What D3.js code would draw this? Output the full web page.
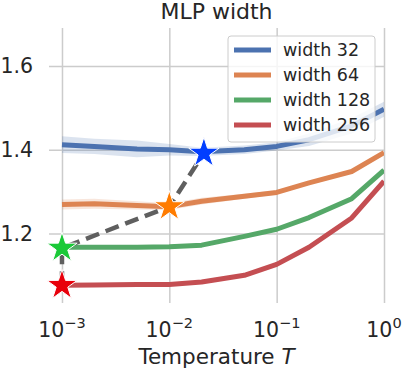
<!DOCTYPE html>
<html>
<head>
<meta charset="utf-8">
<script src="https://cdn.jsdelivr.net/npm/d3@7"></script>
<style>
  body { margin: 0; background: #fff; }
  text { font-family: "DejaVu Sans", sans-serif; fill: #262626; }
</style>
</head>
<body>
<div class="chart"></div>
<script>
const temps = [0.001, 0.002, 0.005, 0.01, 0.02, 0.05, 0.1, 0.2, 0.5, 1];

const width32 = [1.412, 1.408, 1.402, 1.400, 1.395, 1.400, 1.408, 1.424, 1.457, 1.497];
const width32Err = [0.020, 0.018, 0.020, 0.014, 0.010, 0.010, 0.010, 0.015, 0.018, 0.018];
const width64 = [1.269, 1.271, 1.267, 1.264, 1.277, 1.289, 1.298, 1.321, 1.348, 1.393];
const width64Err = [0.012, 0.012, 0.010, 0.008, 0.008, 0.006, 0.005, 0.004, 0.004, 0.004];
const width128 = [1.167, 1.167, 1.167, 1.168, 1.172, 1.193, 1.210, 1.238, 1.283, 1.351];
const width128Err = [0.003, 0.003, 0.003, 0.003, 0.003, 0.003, 0.003, 0.003, 0.003, 0.003];
const width256 = [1.076, 1.077, 1.078, 1.078, 1.084, 1.100, 1.126, 1.167, 1.237, 1.325];
const width256Err = [0.002, 0.002, 0.002, 0.002, 0.002, 0.002, 0.002, 0.002, 0.002, 0.002];

const seriesNames = ["width 32", "width 64", "width 128", "width 256"];
const seriesColors = ["#4c72b0", "#dd8452", "#55a868", "#c44e52"];

// best temperature per width (stars), joined by the dashed line
const starTemps = [0.001, 0.001, 0.01, 0.021];
const starValues = [1.076, 1.165, 1.264, 1.392];
const starColors = ["#e8000b", "#1ac938", "#ff7c00", "#023eff"];

const xTicks = [0.001, 0.01, 0.1, 1];
const xTickExp = ["−3", "−2", "−1", "0"];
const yTicks = [1.2, 1.4, 1.6];

const W = 403, H = 370;
const margin = { top: 28, right: 19, bottom: 67, left: 49 };
const width = W - margin.left - margin.right;
const height = H - margin.top - margin.bottom;

const svg = d3.select(".chart").append("svg")
  .attr("width", W).attr("height", H);

const g = svg.append("g")
  .attr("transform", `translate(${margin.left},${margin.top})`);

const x = d3.scaleLog()
  .domain([Math.pow(10, -3.121), 1])
  .range([0, width]);

const y = d3.scaleLinear()
  .domain([1.0337, 1.691])
  .range([height, 0]);

svg.append("defs").append("clipPath").attr("id", "clip")
  .append("rect").attr("width", width).attr("height", height);

// grid
g.append("g")
  .call(d3.axisBottom(x).tickValues(xTicks).tickSize(height).tickFormat(""))
  .call(a => a.select(".domain").remove())
  .call(a => a.selectAll("line").attr("stroke", "#cccccc").attr("stroke-width", 1.5));

g.append("g")
  .call(d3.axisLeft(y).tickValues(yTicks).tickSize(-width).tickFormat(""))
  .call(a => a.select(".domain").remove())
  .call(a => a.selectAll("line").attr("stroke", "#cccccc").attr("stroke-width", 1.5));

// tick labels
g.selectAll(".ylab").data(yTicks).enter().append("text")
  .attr("x", -16)
  .attr("y", d => y(d))
  .attr("dy", "0.36em")
  .attr("text-anchor", "end")
  .style("font-size", "20.5px")
  .text(d => d.toFixed(1));

const xl = g.selectAll(".xlab").data(xTicks).enter().append("text")
  .attr("x", d => x(d))
  .attr("y", height + 33.7)
  .attr("text-anchor", "middle")
  .style("font-size", "20.5px");
xl.append("tspan").text("10");
xl.append("tspan").attr("dy", -8.7).style("font-size", "14.5px")
  .text((d, i) => xTickExp[i]);

// bands and lines
const series = [
  { v: width32, e: width32Err },
  { v: width64, e: width64Err },
  { v: width128, e: width128Err },
  { v: width256, e: width256Err },
];

const plot = g.append("g").attr("clip-path", "url(#clip)");

const area = d3.area()
  .x(d => x(d.t))
  .y0(d => y(d.v - d.e))
  .y1(d => y(d.v + d.e));

const line = d3.line()
  .x(d => x(d.t))
  .y(d => y(d.v));

series.forEach((s, k) => {
  const pts = temps.map((t, i) => ({ t: t, v: s.v[i], e: s.e[i] }));
  plot.append("path").datum(pts)
    .attr("d", area)
    .attr("fill", seriesColors[k])
    .attr("fill-opacity", 0.2);
  plot.append("path").datum(pts)
    .attr("d", line)
    .attr("fill", "none")
    .attr("stroke", seriesColors[k])
    .attr("stroke-width", 5)
    .attr("stroke-linejoin", "round");
});

// dashed path through the stars
const stars = starTemps.map((t, i) => ({ t: t, v: starValues[i], c: starColors[i] }));

g.append("path").datum(stars)
  .attr("d", line)
  .attr("fill", "none")
  .attr("stroke", "#5f5f5f")
  .attr("stroke-width", 4.5)
  .attr("stroke-dasharray", "14,7");

g.selectAll(".star").data(stars).enter().append("path")
  .attr("transform", d => `translate(${x(d.t)},${y(d.v)})`)
  .attr("d", d3.symbol().type(d3.symbolStar).size(285))
  .attr("fill", d => d.c)
  .attr("stroke", "#fff")
  .attr("stroke-width", 1);

// title and axis label
svg.append("text")
  .attr("x", margin.left + width / 2)
  .attr("y", 18.5)
  .attr("text-anchor", "middle")
  .style("font-size", "22px")
  .text("MLP width");

const xlabel = svg.append("text")
  .attr("x", margin.left + width / 2)
  .attr("y", 364)
  .attr("text-anchor", "middle")
  .style("font-size", "21.5px");
xlabel.append("tspan").text("Temperature ");
xlabel.append("tspan").style("font-style", "italic").text("T");

// legend
const legend = svg.append("g");
legend.append("rect")
  .attr("x", 228).attr("y", 36)
  .attr("width", 147).attr("height", 106)
  .attr("rx", 3)
  .attr("fill", "#fff").attr("fill-opacity", 0.8)
  .attr("stroke", "#cccccc").attr("stroke-width", 1);

seriesNames.forEach((name, i) => {
  const yy = 50 + i * 25;
  legend.append("line")
    .attr("x1", 234).attr("x2", 271)
    .attr("y1", yy).attr("y2", yy)
    .attr("stroke", seriesColors[i])
    .attr("stroke-width", 5);
  legend.append("text")
    .attr("x", 283).attr("y", yy)
    .attr("dy", "0.36em")
    .style("font-size", "17.5px")
    .text(name);
});
</script>
</body>
</html>
